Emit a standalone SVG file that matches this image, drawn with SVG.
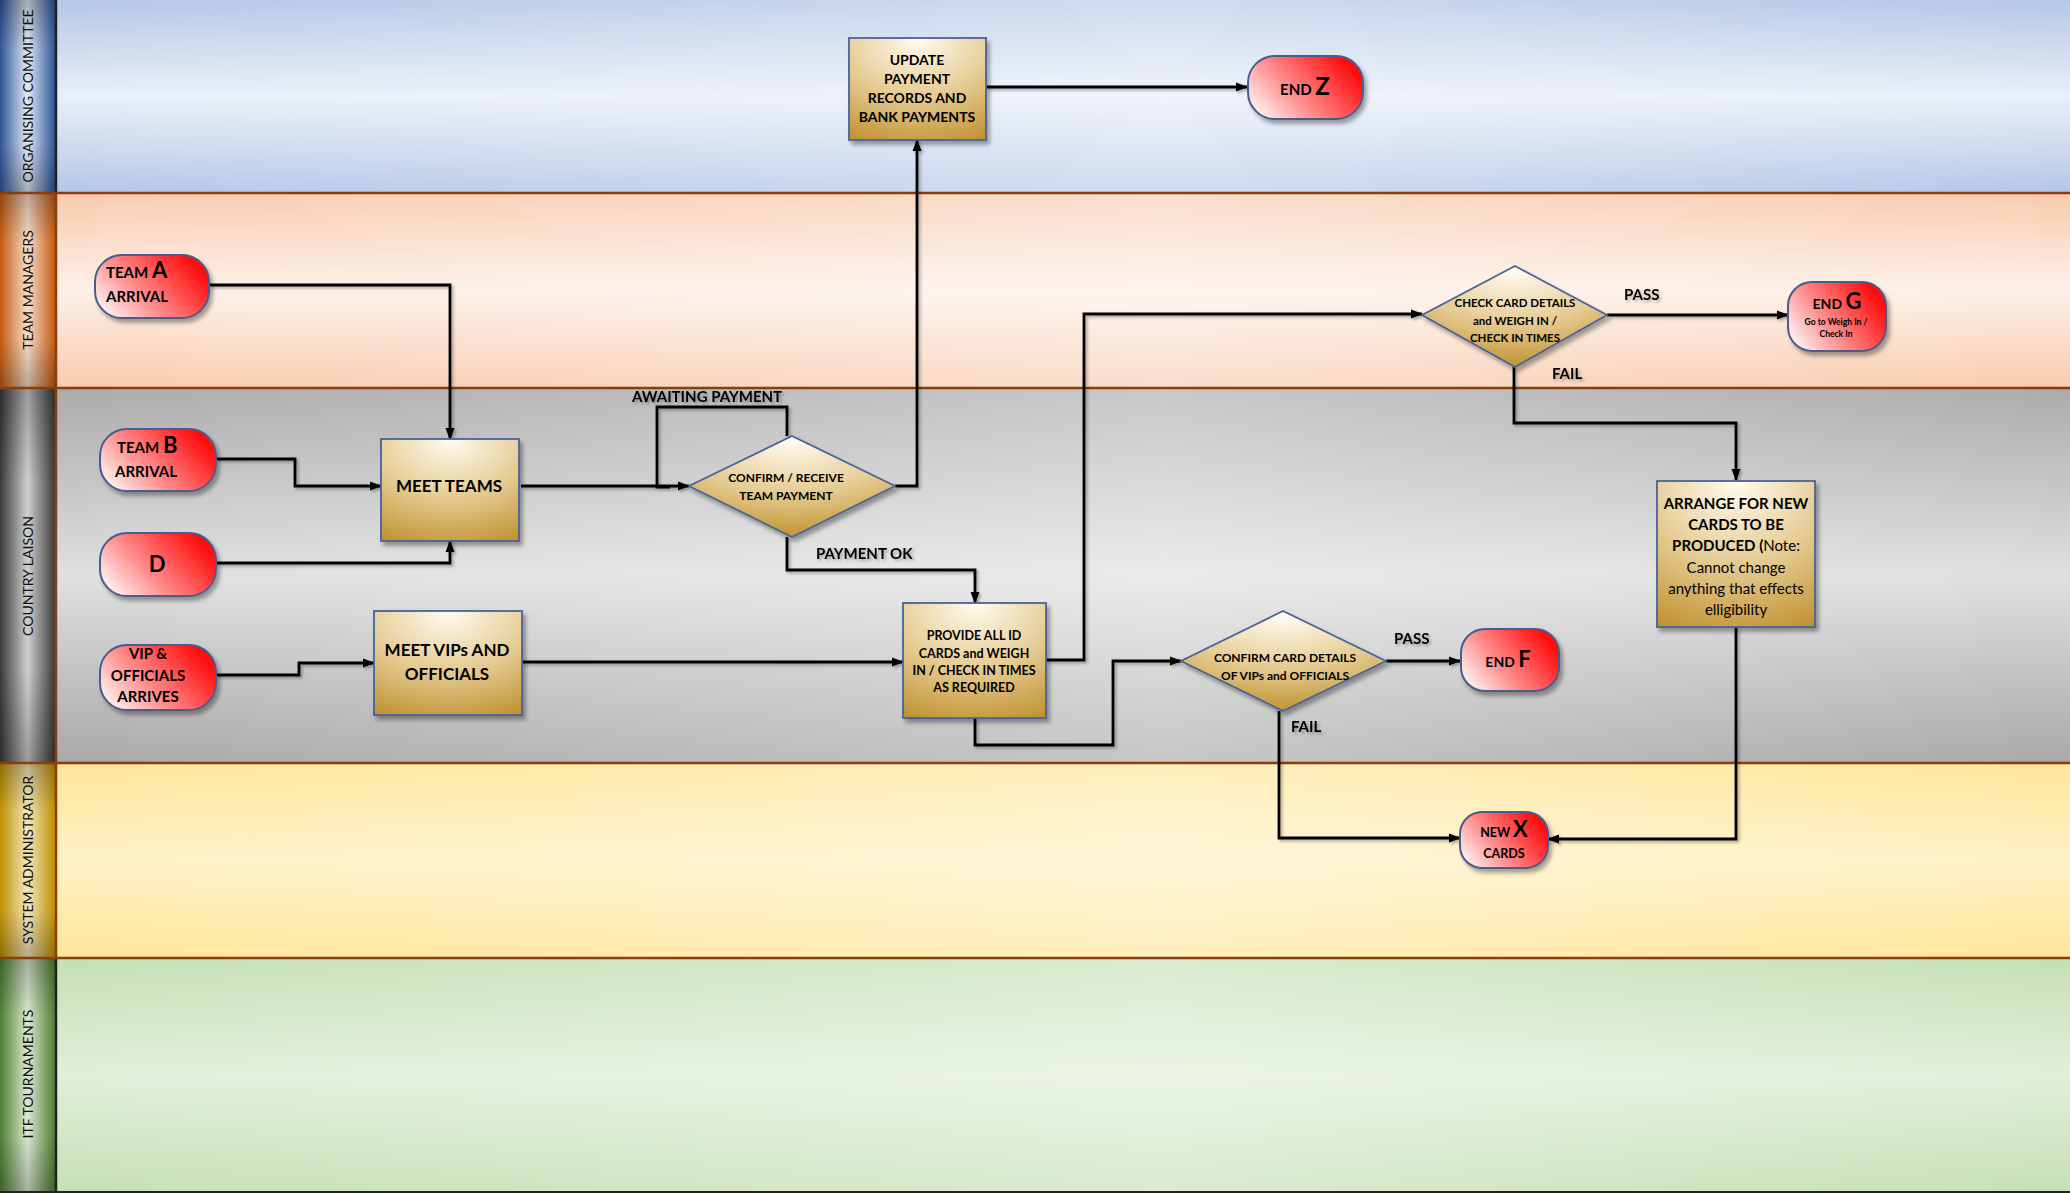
<svg xmlns="http://www.w3.org/2000/svg" width="2070" height="1193" viewBox="0 0 2070 1193">
<style>
text{font-family:Lato,"Liberation Sans",sans-serif;fill:#000;font-weight:bold}
.hdr{font-weight:normal;font-size:14px;fill:#111;text-anchor:middle}
.reg{font-weight:normal}
.term{stroke:#4a5b8c;stroke-width:2;fill:url(#gRed);filter:url(#sh)}
.proc{stroke:#4a6396;stroke-width:1.8;fill:url(#gGold);filter:url(#sh)}
.dec{stroke:#4a6396;stroke-width:1.8;fill:url(#gGoldD);filter:url(#sh)}
.c{fill:none;stroke:#000;stroke-width:2.8}
.ar{marker-end:url(#ah)}
.lbl{font-size:15px}
.mid{text-anchor:middle}
.lane-sep{stroke:#8a3e0e;stroke-width:2.5}
</style>
<defs>
<filter id="sh" x="-10%" y="-10%" width="130%" height="140%"><feDropShadow dx="3" dy="4" stdDeviation="2" flood-color="#000" flood-opacity="0.35"/></filter>
<filter id="csh" x="-5%" y="-5%" width="110%" height="110%"><feDropShadow dx="2" dy="2" stdDeviation="1.5" flood-color="#000" flood-opacity="0.3"/></filter>
<marker id="ah" markerUnits="userSpaceOnUse" markerWidth="12" markerHeight="12" viewBox="0 0 12 12" refX="11" refY="6" orient="auto"><path d="M0,1.5 L12,6 L0,10.5 z" fill="#000"/></marker>
<linearGradient id="gRed" x1="0" y1="0.9" x2="1" y2="0.4"><stop offset="0" stop-color="#ffffff"/><stop offset="0.45" stop-color="#ff8a8a"/><stop offset="1" stop-color="#ff0d0d"/></linearGradient>
<radialGradient id="gGold" cx="0.5" cy="0" r="1.15"><stop offset="0" stop-color="#fffcf2"/><stop offset="0.5" stop-color="#e5cb92"/><stop offset="1" stop-color="#bd8c28"/></radialGradient>
<radialGradient id="gGoldD" cx="0.5" cy="0.05" r="0.95"><stop offset="0" stop-color="#fffcf2"/><stop offset="0.55" stop-color="#e5cb92"/><stop offset="1" stop-color="#c29431"/></radialGradient>
<linearGradient id="hBlue" x1="0" y1="0" x2="1" y2="0"><stop offset="0" stop-color="#2f5597"/><stop offset="0.5" stop-color="#dfe7f4"/><stop offset="1" stop-color="#2f5597"/></linearGradient>
<linearGradient id="hOrange" x1="0" y1="0" x2="1" y2="0"><stop offset="0" stop-color="#c55a11"/><stop offset="0.5" stop-color="#f6dcc8"/><stop offset="1" stop-color="#c55a11"/></linearGradient>
<linearGradient id="hGray" x1="0" y1="0" x2="1" y2="0"><stop offset="0" stop-color="#3a3a3a"/><stop offset="0.5" stop-color="#cfcfcf"/><stop offset="1" stop-color="#3a3a3a"/></linearGradient>
<linearGradient id="hGold" x1="0" y1="0" x2="1" y2="0"><stop offset="0" stop-color="#bf9000"/><stop offset="0.5" stop-color="#f4e6bc"/><stop offset="1" stop-color="#bf9000"/></linearGradient>
<linearGradient id="hGreen" x1="0" y1="0" x2="1" y2="0"><stop offset="0" stop-color="#4f7f33"/><stop offset="0.5" stop-color="#dbe8d2"/><stop offset="1" stop-color="#4f7f33"/></linearGradient>
<linearGradient id="hShade" x1="0" y1="0" x2="0" y2="1"><stop offset="0" stop-color="#000" stop-opacity="0.25"/><stop offset="0.25" stop-color="#000" stop-opacity="0"/><stop offset="0.75" stop-color="#000" stop-opacity="0"/><stop offset="1" stop-color="#000" stop-opacity="0.25"/></linearGradient>
<linearGradient id="lBlue" x1="0" y1="0" x2="0" y2="1"><stop offset="0" stop-color="#b4c7e7"/><stop offset="0.5" stop-color="#e9eff8"/><stop offset="1" stop-color="#b4c7e7"/></linearGradient>
<linearGradient id="lPeach" x1="0" y1="0" x2="0" y2="1"><stop offset="0" stop-color="#f8cbad"/><stop offset="0.5" stop-color="#fdf0e7"/><stop offset="1" stop-color="#f8cbad"/></linearGradient>
<linearGradient id="lGray" x1="0" y1="0" x2="0" y2="1"><stop offset="0" stop-color="#acaaaa"/><stop offset="0.5" stop-color="#e0e0e0"/><stop offset="1" stop-color="#a9a7a7"/></linearGradient>
<linearGradient id="lYellow" x1="0" y1="0" x2="0" y2="1"><stop offset="0" stop-color="#ffe699"/><stop offset="0.5" stop-color="#fff1c6"/><stop offset="1" stop-color="#ffe699"/></linearGradient>
<linearGradient id="lGreen" x1="0" y1="0" x2="0" y2="1"><stop offset="0" stop-color="#c5e0b4"/><stop offset="0.5" stop-color="#e2efd9"/><stop offset="1" stop-color="#c5e0b4"/></linearGradient>
<linearGradient id="lHi" x1="0" y1="0" x2="1" y2="0"><stop offset="0" stop-color="#fff" stop-opacity="0"/><stop offset="0.55" stop-color="#fff" stop-opacity="0.35"/><stop offset="1" stop-color="#fff" stop-opacity="0"/></linearGradient>
</defs>

<g id="lanes">
<rect x="56" y="0" width="2014" height="193" fill="url(#lBlue)"/>
<rect x="56" y="193" width="2014" height="195" fill="url(#lPeach)"/>
<rect x="56" y="388" width="2014" height="375" fill="url(#lGray)"/>
<rect x="56" y="763" width="2014" height="195" fill="url(#lYellow)"/>
<rect x="56" y="958" width="2014" height="235" fill="url(#lGreen)"/>
<rect x="56" y="0" width="2014" height="1193" fill="url(#lHi)"/>
<rect x="0" y="0" width="55" height="193" fill="url(#hBlue)"/>
<rect x="0" y="193" width="55" height="195" fill="url(#hOrange)"/>
<rect x="0" y="388" width="55" height="375" fill="url(#hGray)"/>
<rect x="0" y="763" width="55" height="195" fill="url(#hGold)"/>
<rect x="0" y="958" width="55" height="235" fill="url(#hGreen)"/>
<rect x="0" y="0" width="55" height="193" fill="url(#hShade)"/>
<rect x="0" y="193" width="55" height="195" fill="url(#hShade)"/>
<rect x="0" y="388" width="55" height="375" fill="url(#hShade)"/>
<rect x="0" y="763" width="55" height="195" fill="url(#hShade)"/>
<rect x="0" y="958" width="55" height="235" fill="url(#hShade)"/>
<line x1="56" y1="0" x2="56" y2="193" stroke="#222" stroke-width="2.5"/>
<line x1="56" y1="193" x2="56" y2="958" stroke="#8a3e0e" stroke-width="2.5"/>
<line x1="56" y1="958" x2="56" y2="1193" stroke="#222" stroke-width="2.5"/>
<line class="lane-sep" x1="0" y1="193" x2="2070" y2="193"/>
<line class="lane-sep" x1="0" y1="388" x2="2070" y2="388"/>
<line class="lane-sep" x1="0" y1="763" x2="2070" y2="763"/>
<line class="lane-sep" x1="0" y1="958" x2="2070" y2="958"/>
<line x1="0" y1="1192" x2="2070" y2="1192" stroke="#222" stroke-width="2"/>
<text class="hdr" transform="translate(28,96) rotate(-90)" dy="5">ORGANISING COMMITTEE</text>
<text class="hdr" transform="translate(28,290) rotate(-90)" dy="5">TEAM MANAGERS</text>
<text class="hdr" transform="translate(28,576) rotate(-90)" dy="5">COUNTRY LAISON</text>
<text class="hdr" transform="translate(28,860) rotate(-90)" dy="5">SYSTEM ADMINISTRATOR</text>
<text class="hdr" transform="translate(28,1074) rotate(-90)" dy="5">ITF TOURNAMENTS</text>
</g>

<g id="connectors" filter="url(#csh)">
<path class="c ar" d="M209,285 H450 V439"/>
<path class="c ar" d="M216,459 H295 V486 H381"/>
<path class="c ar" d="M216,563 H450 V541"/>
<path class="c ar" d="M216,675 H299 V663 H374"/>
<path class="c ar" d="M521,486 H689"/>
<path class="c" d="M787,436 V407 H657 V487 H670"/>
<path class="c ar" d="M895,486 H917 V140"/>
<path class="c ar" d="M787,537 V570 H975 V603"/>
<path class="c ar" d="M522,662 H903"/>
<path class="c ar" d="M1046,660 H1084 V314 H1422"/>
<path class="c ar" d="M1607,315 H1788"/>
<path class="c ar" d="M1514,367 V423 H1736 V480"/>
<path class="c ar" d="M975,718 V745 H1113 V661 H1181"/>
<path class="c ar" d="M1386,661 H1460"/>
<path class="c ar" d="M1279,711 V838 H1460"/>
<path class="c ar" d="M1736,627 V839 H1548"/>
<path class="c ar" d="M986,87 H1247"/>
<text class="lbl" x="632" y="402">AWAITING PAYMENT</text>
<text class="lbl" x="816" y="559">PAYMENT OK</text>
<text class="lbl" x="1624" y="300">PASS</text>
<text class="lbl" x="1552" y="379">FAIL</text>
<text class="lbl" x="1394" y="644">PASS</text>
<text class="lbl" x="1291" y="732">FAIL</text>
</g>

<g id="team-a"><rect class="term" x="95" y="255" width="114" height="63" rx="27"/>
<text x="106" y="278" font-size="15">TEAM <tspan font-size="22">A</tspan></text>
<text x="106" y="302" font-size="15">ARRIVAL</text></g>

<g id="team-b"><rect class="term" x="100" y="429" width="116" height="62" rx="27"/>
<text x="117" y="453" font-size="15">TEAM <tspan font-size="22">B</tspan></text>
<text x="115" y="477" font-size="15">ARRIVAL</text></g>

<g id="d"><rect class="term" x="100" y="533" width="116" height="63" rx="27"/>
<text class="mid" x="157" y="572" font-size="22">D</text></g>

<g id="vip"><rect class="term" x="100" y="645" width="116" height="65" rx="27"/>
<text class="mid" x="148" y="659" font-size="15">VIP &amp;</text>
<text class="mid" x="148" y="681" font-size="15">OFFICIALS</text>
<text class="mid" x="148" y="702" font-size="15">ARRIVES</text></g>

<g id="meet-teams"><rect class="proc" x="381" y="439" width="138" height="102"/>
<text class="mid" x="449" y="492" font-size="17">MEET TEAMS</text></g>

<g id="meet-vips"><rect class="proc" x="374" y="611" width="148" height="104"/>
<text class="mid" x="447" y="656" font-size="17">MEET VIPs AND</text>
<text class="mid" x="447" y="680" font-size="17">OFFICIALS</text></g>

<g id="update"><rect class="proc" x="849" y="38" width="137" height="102"/>
<text class="mid" x="917" y="65" font-size="14">UPDATE</text>
<text class="mid" x="917" y="84" font-size="14">PAYMENT</text>
<text class="mid" x="917" y="103" font-size="14">RECORDS AND</text>
<text class="mid" x="917" y="122" font-size="14">BANK PAYMENTS</text></g>

<g id="end-z"><rect class="term" x="1248" y="56" width="115" height="63" rx="27"/>
<text class="mid" x="1305" y="95" font-size="15">END <tspan font-size="24">Z</tspan></text></g>

<g id="confirm-payment"><polygon class="dec" points="792,436 895,486 792,537 689,486"/>
<text class="mid" x="786" y="482" font-size="12">CONFIRM / RECEIVE</text>
<text class="mid" x="786" y="500" font-size="12">TEAM PAYMENT</text></g>

<g id="provide"><rect class="proc" x="903" y="603" width="143" height="115"/>
<text class="mid" x="974" y="640" font-size="12.5">PROVIDE ALL ID</text>
<text class="mid" x="974" y="658" font-size="12.5">CARDS and WEIGH</text>
<text class="mid" x="974" y="675" font-size="12.5">IN / CHECK IN TIMES</text>
<text class="mid" x="974" y="692" font-size="12.5">AS REQUIRED</text></g>

<g id="check-card"><polygon class="dec" points="1515,266 1607,315 1515,367 1422,315"/>
<text class="mid" x="1515" y="307" font-size="11.5">CHECK CARD DETAILS</text>
<text class="mid" x="1515" y="325" font-size="11.5">and WEIGH  IN /</text>
<text class="mid" x="1515" y="342" font-size="11.5">CHECK IN TIMES</text></g>

<g id="end-g"><rect class="term" x="1788" y="282" width="98" height="69" rx="24"/>
<text class="mid" x="1837" y="309" font-size="14">END <tspan font-size="22">G</tspan></text>
<text class="mid" x="1836" y="325" font-size="8.5">Go to Weigh In /</text>
<text class="mid" x="1836" y="337" font-size="8.5">Check In</text></g>

<g id="arrange"><rect class="proc" x="1657" y="481" width="158" height="146"/>
<text class="mid" x="1736" y="509" font-size="15">ARRANGE FOR NEW</text>
<text class="mid" x="1736" y="530" font-size="15">CARDS TO  BE</text>
<text class="mid" x="1736" y="551" font-size="15">PRODUCED (<tspan class="reg">Note:</tspan></text>
<text class="mid reg" x="1736" y="573" font-size="15">Cannot change</text>
<text class="mid reg" x="1736" y="594" font-size="15">anything that effects</text>
<text class="mid reg" x="1736" y="615" font-size="15">elligibility</text></g>

<g id="confirm-card"><polygon class="dec" points="1283,611 1386,661 1283,711 1181,661"/>
<text class="mid" x="1285" y="662" font-size="12">CONFIRM CARD DETAILS</text>
<text class="mid" x="1285" y="680" font-size="12">OF VIPs and  OFFICIALS</text></g>

<g id="end-f"><rect class="term" x="1461" y="629" width="98" height="62" rx="24"/>
<text class="mid" x="1508" y="667" font-size="14">END <tspan font-size="22">F</tspan></text></g>

<g id="new-x"><rect class="term" x="1460" y="812" width="88" height="56" rx="22"/>
<text class="mid" x="1504" y="837" font-size="12.5">NEW <tspan font-size="22">X</tspan></text>
<text class="mid" x="1504" y="858" font-size="12.5">CARDS</text></g>
</svg>
